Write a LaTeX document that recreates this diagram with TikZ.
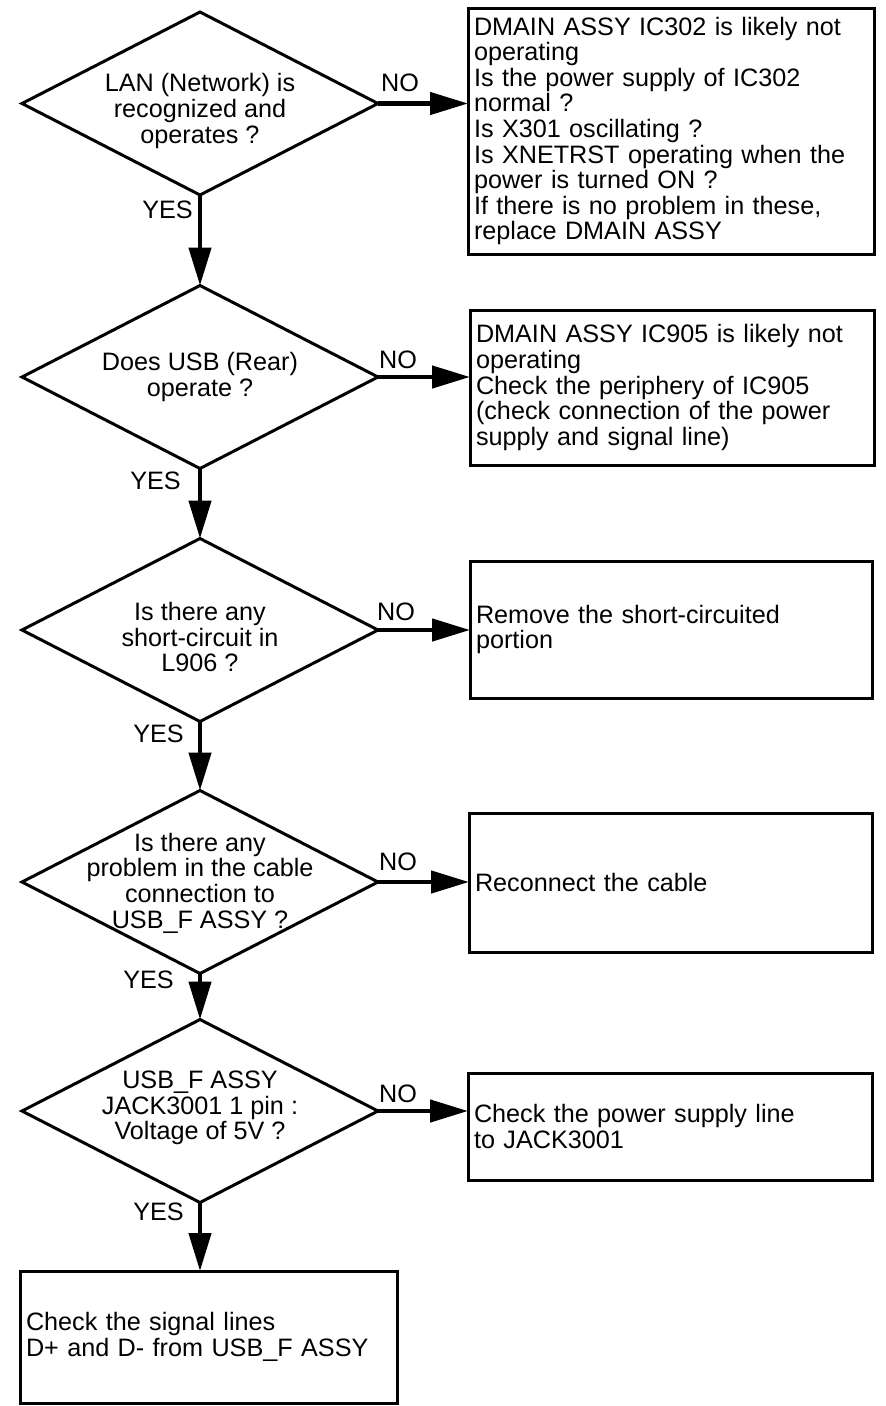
\documentclass[tikz,border=0pt]{standalone}
\usepackage{fontspec}
\setmainfont{Liberation Sans}
\usetikzlibrary{shapes.geometric,arrows.meta}
\newcommand{\fcfont}{\fontsize{25.2pt}{25.6pt}\selectfont}
\begin{document}
\begin{tikzpicture}[x=1pt,y=-1pt,
  dia/.style={draw, shape=diamond, line width=3pt, minimum width=356pt, minimum height=183pt, inner sep=0pt, outer sep=0pt},
  dtxt/.style={font=\fcfont, align=center, inner sep=0pt},
  fbox/.style={draw, rectangle, line width=3pt, inner xsep=6pt, inner ysep=0pt, outer sep=0pt, align=left, font=\fcfont},
  arr/.style={line width=4.5pt, -{Triangle[length=38pt,width=22pt]}},
  lbl/.style={font=\fcfont, inner sep=0pt}]
\useasboundingbox (0,0) rectangle (886,1406);
\fill[white] (0,0) rectangle (886,1406);

% decisions
\node[dia] (d1) at (200,103.5) {};
\node[dia] (d2) at (200,377) {};
\node[dia] (d3) at (200,630) {};
\node[dia] (d4) at (200,882) {};
\node[dia] (d5) at (200,1111) {};

\node[dtxt] (t1) at (200,111) {LAN (Network) is\\recognized and\\operates ?};
\node[dtxt] (t2) at (200,377) {Does USB (Rear)\\operate ?};
\node[dtxt] (t3) at (200,637) {Is there any\\short-circuit in\\L906 ?};
\node[dtxt] (t4) at (200,883) {Is there any\\problem in the cable\\connection to\\USB\_F ASSY ?};
\node[dtxt] (t5) at (200,1108) {USB\_F ASSY\\JACK3001 1 pin :\\Voltage of 5V ?};

% action boxes
\node[fbox, minimum width=406pt, minimum height=246pt, text width=394pt] (b1) at (671,131)
  {DMAIN ASSY IC302 is likely not\\operating\\Is the power supply of IC302\\normal ?\\Is X301 oscillating ?\\Is XNETRST operating when the\\power is turned ON ?\\If there is no problem in these,\\replace DMAIN ASSY};
\node[fbox, minimum width=404pt, minimum height=155pt, text width=392pt] (b2) at (672,387.5)
  {DMAIN ASSY IC905 is likely not\\operating\\Check the periphery of IC905\\(check connection of the power\\supply and signal line)};
\node[fbox, minimum width=402pt, minimum height=137pt, text width=390pt] (b3) at (671,629.5)
  {Remove the short-circuited\\portion};
\node[fbox, minimum width=403pt, minimum height=139pt, text width=391pt] (b4) at (670.5,882.5)
  {Reconnect the cable};
\node[fbox, minimum width=404pt, minimum height=107pt, text width=392pt] (b5) at (670,1126.5)
  {Check the power supply line\\to JACK3001};
\node[fbox, minimum width=377pt, minimum height=132pt, text width=365pt] (b6) at (208.5,1337)
  {Check the signal lines\\D+ and D- from USB\_F ASSY};

% connectors
\draw[arr] (d1.east) -- (b1.west |- d1.east);
\draw[arr] (d2.east) -- (b2.west |- d2.east);
\draw[arr] (d3.east) -- (b3.west |- d3.east);
\draw[arr] (d4.east) -- (b4.west |- d4.east);
\draw[arr] (d5.east) -- (b5.west |- d5.east);
\draw[arr] (d1.south) -- (d2.north);
\draw[arr] (d2.south) -- (d3.north);
\draw[arr] (d3.south) -- (d4.north);
\draw[arr] (d4.south) -- (d5.north);
\draw[arr] (d5.south) -- (d5.south |- b6.north);

% labels
\node[lbl] (n1) at (400,83) {NO};
\node[lbl] (n2) at (398,360) {NO};
\node[lbl] (n3) at (396,612) {NO};
\node[lbl] (n4) at (398,862) {NO};
\node[lbl] (n5) at (398,1094) {NO};
\node[lbl, anchor=east] (y1) at (193,210) {YES};
\node[lbl, anchor=east] (y2) at (181,481) {YES};
\node[lbl, anchor=east] (y3) at (184,734) {YES};
\node[lbl, anchor=east] (y4) at (174,980) {YES};
\node[lbl, anchor=east] (y5) at (184,1212) {YES};
\end{tikzpicture}
\end{document}
